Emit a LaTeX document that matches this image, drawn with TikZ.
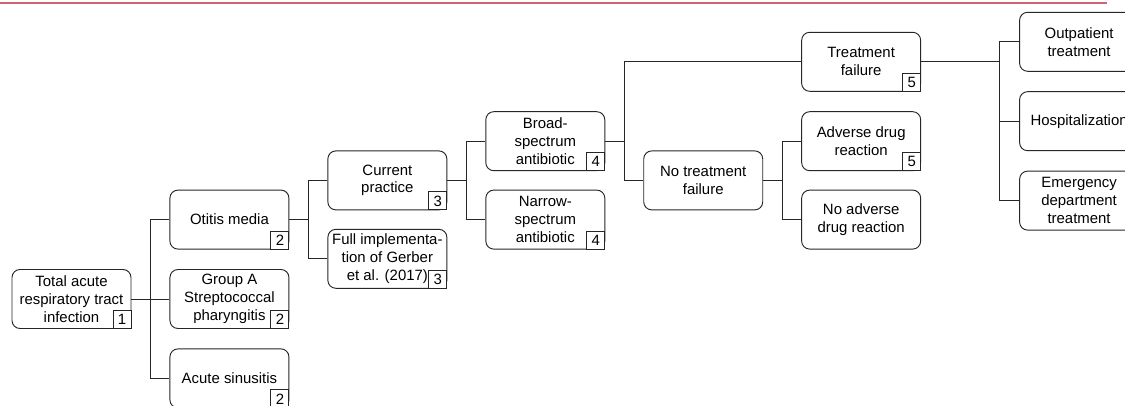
\documentclass[tikz,border=0pt]{standalone}
\usepackage{fontspec}
\setmainfont{Liberation Sans}
\usetikzlibrary{positioning}

\definecolor{rulered}{RGB}{212,98,112}

\begin{document}
\begin{tikzpicture}
	[x=0.75pt,y=-0.75pt,
	node distance=14.6pt and 28.5pt,
	box/.style={rectangle,draw=black!85,rounded corners=6pt,line width=0.7pt,inner sep=0pt, minimum width=89.25pt, minimum height=44.25pt,align=center,font=\fontsize{11.2}{13.3}\selectfont},
	numbox/.style={rectangle,draw=black!85,fill=white,line width=0.7pt,inner sep=0pt, minimum size=13.5pt,anchor=south east,font=\fontsize{11.2}{13.3}\selectfont},
	link/.style={draw=black!85,line width=0.7pt}]
	\useasboundingbox (0,0) rectangle (1125,406);
	\clip (0,0) rectangle (1125,406);

	\draw [rulered,line width=1.5pt] (0,2.7) -- (1107,2.7);

	\node [box] (total) at (71.5,299) {Total acute\\respiratory tract\\infection};
	\node [box] (groupa) [right=of total] {Group A\\Streptococcal\\pharyngitis};
	\node [box] (otitis) [above=of groupa] {Otitis media};
	\node [box] (sinus) [below=of groupa] {Acute sinusitis};

	\node [box] (current) [right=of otitis,yshift=29.4pt] {Current\\practice};
	\node [box] (full) [right=of otitis,yshift=-29.4pt] {Full implementa-\\tion of Gerber\\et al. (2017)};

	\node [box] (broad) [right=of current,yshift=29.4pt] {Broad-\\spectrum\\antibiotic};
	\node [box] (narrow) [right=of current,yshift=-29.4pt] {Narrow-\\spectrum\\antibiotic};

	\node [box] (notf) [right=of broad,yshift=-29.4pt] {No treatment\\failure};
	\node [box] (adverse) [right=of notf,yshift=29.4pt] {Adverse drug\\reaction};
	\node [box] (noadverse) [right=of notf,yshift=-29.4pt] {No adverse\\drug reaction};
	\node [box] (tf) [above=of adverse] {Treatment\\failure};

	\node [box] (outpat) [right=73.5pt of tf,yshift=15pt] {Outpatient\\treatment};
	\node [box] (hosp) [below=of outpat] {Hospitalization};
	\node [box] (emerg) [below=of hosp] {Emergency\\department\\treatment};

	\node [numbox] (totaln) at (total.south east) {1};
	\node [numbox] (otitisn) at (otitis.south east) {2};
	\node [numbox] (groupan) at (groupa.south east) {2};
	\node [numbox] (sinusn) at (sinus.south east) {2};
	\node [numbox] (currentn) at (current.south east) {3};
	\node [numbox] (fulln) at (full.south east) {3};
	\node [numbox] (broadn) at (broad.south east) {4};
	\node [numbox] (narrown) at (narrow.south east) {4};
	\node [numbox] (tfn) at (tf.south east) {5};
	\node [numbox] (adversen) at (adverse.south east) {5};

	\draw [link] (total.east) -- ++(14.25pt,0) |- (otitis.west);
	\draw [link] (total.east) -- (groupa.west);
	\draw [link] (total.east) -- ++(14.25pt,0) |- (sinus.west);

	\draw [link] (otitis.east) -- ++(14.25pt,0) |- (current.west);
	\draw [link] (otitis.east) -- ++(14.25pt,0) |- (full.west);

	\draw [link] (current.east) -- ++(14.25pt,0) |- (broad.west);
	\draw [link] (current.east) -- ++(14.25pt,0) |- (narrow.west);

	\draw [link] (broad.east) -- ++(14.25pt,0) |- (tf.west);
	\draw [link] (broad.east) -- ++(14.25pt,0) |- (notf.west);

	\draw [link] (notf.east) -- ++(14.25pt,0) |- (adverse.west);
	\draw [link] (notf.east) -- ++(14.25pt,0) |- (noadverse.west);

	\draw [link] (tf.east) -- ++(58.5pt,0) |- (outpat.west);
	\draw [link] (tf.east) -- ++(58.5pt,0) |- (hosp.west);
	\draw [link] (tf.east) -- ++(58.5pt,0) |- (emerg.west);

\end{tikzpicture}
\end{document}
